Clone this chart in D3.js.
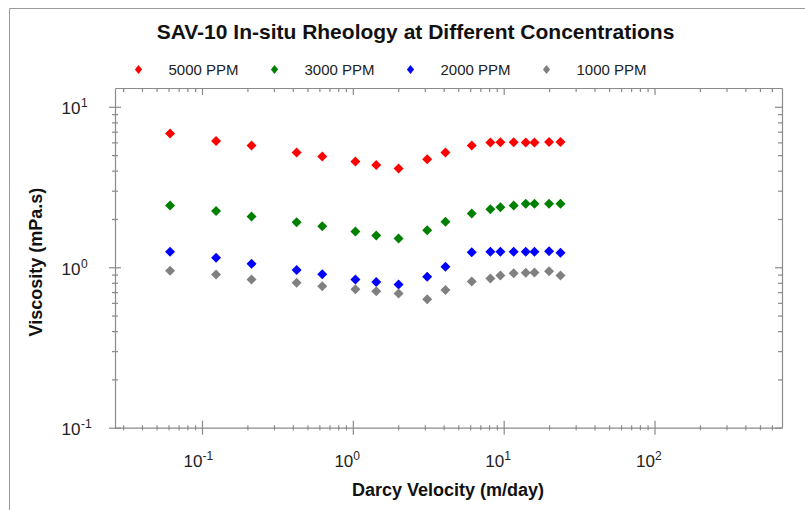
<!DOCTYPE html>
<html lang="en">
	<head>
		<meta charset="utf-8">
		<title>SAV-10 In-situ Rheology</title>
		<script type="text/javascript" src="https://cdn.jsdelivr.net/npm/d3@7"></script>
		<style>
			body { margin: 0; background: #fff; }
			text { font-family: "Liberation Sans", Arial, sans-serif; }
		</style>
	</head>
	<body>
		<script type="text/javascript">

			var w = 805;
			var h = 510;

			// darcy velocity (m/day), shared by all concentrations
			var velocity = [0.0614, 0.124, 0.213, 0.424, 0.627, 1.04, 1.43, 2.01, 3.11, 4.11, 6.14, 8.16, 9.51, 11.65, 14.0, 16.0, 20.0, 23.8];

			var visc5000 = [6.82, 6.13, 5.74, 5.19, 4.90, 4.56, 4.34, 4.13, 4.71, 5.19, 5.74, 5.99, 6.02, 6.02, 5.99, 5.99, 6.04, 6.04];
			var visc3000 = [2.43, 2.24, 2.07, 1.91, 1.80, 1.67, 1.58, 1.51, 1.70, 1.92, 2.16, 2.30, 2.37, 2.43, 2.49, 2.49, 2.49, 2.49];
			var visc2000 = [1.25, 1.145, 1.05, 0.963, 0.904, 0.838, 0.808, 0.78, 0.873, 1.006, 1.24, 1.25, 1.25, 1.25, 1.25, 1.25, 1.26, 1.23];
			var visc1000 = [0.951, 0.90, 0.838, 0.80, 0.761, 0.729, 0.708, 0.685, 0.631, 0.722, 0.814, 0.85, 0.887, 0.917, 0.923, 0.927, 0.944, 0.887];

			var seriesNames = ["5000 PPM", "3000 PPM", "2000 PPM", "1000 PPM"];
			var seriesColors = ["#ff0000", "#008000", "#0000ff", "#808080"];
			var seriesValues = [visc5000, visc3000, visc2000, visc1000];

			var xMajor = [0.1, 1, 10, 100];
			var yMajor = [0.1, 1, 10];

			var plotLeft = 115, plotRight = 782, plotTop = 88, plotBottom = 427.7;
			var axisColor = "#8a8a8a";

			var xScale = d3.scaleLog()
						   .domain([0.0265, 700])
						   .range([plotLeft, plotRight]);

			var yScale = d3.scaleLog()
						   .domain([0.1, 13.1])
						   .range([plotBottom, plotTop]);

			function logTicks(lo, hi) {
				var t = [];
				for (var e = -3; e <= 3; e++) {
					for (var m = 1; m <= 9; m++) {
						var v = +(m * Math.pow(10, e)).toPrecision(3);
						if (v >= lo && v <= hi) t.push(v);
					}
				}
				return t;
			}
			function isMajor(v) {
				return Math.abs(Math.log10(v) - Math.round(Math.log10(v))) < 1e-6;
			}

			var xTicks = logTicks(0.0265, 650);
			var yTicks = logTicks(0.1, 13);

			var svg = d3.select("body")
						.append("svg")
						.attr("width", w)
						.attr("height", h);

			// outer frame of the picture
			svg.append("path")
			   .attr("d", "M9.5," + h + "V8.5H" + w)
			   .attr("fill", "none")
			   .attr("stroke", "#9a9a9a")
			   .attr("stroke-width", 1);

			// axes
			var xAxisB = d3.axisBottom(xScale).tickValues(xTicks).tickFormat("").tickSizeOuter(0);
			var xAxisT = d3.axisTop(xScale).tickValues(xTicks).tickFormat("").tickSizeOuter(0);
			var yAxisL = d3.axisLeft(yScale).tickValues(yTicks).tickFormat("").tickSizeOuter(0);
			var yAxisR = d3.axisRight(yScale).tickValues(yTicks).tickFormat("").tickSizeOuter(0);

			var gB = svg.append("g").attr("transform", "translate(0," + plotBottom + ")").call(xAxisB);
			gB.selectAll(".tick line")
			  .attr("y1", function(d) { return isMajor(d) ? -7 : -2.5; })
			  .attr("y2", function(d) { return isMajor(d) ? 7 : 2.5; });

			var gT = svg.append("g").attr("transform", "translate(0," + plotTop + ")").call(xAxisT);
			gT.selectAll(".tick line")
			  .attr("y1", 0)
			  .attr("y2", function(d) { return isMajor(d) ? 7 : 4; });

			var gL = svg.append("g").attr("transform", "translate(" + plotLeft + ",0)").call(yAxisL);
			gL.selectAll(".tick line")
			  .attr("x1", function(d) { return isMajor(d) ? -6 : -3; })
			  .attr("x2", function(d) { return isMajor(d) ? 6 : 3; });

			var gR = svg.append("g").attr("transform", "translate(" + plotRight + ",0)").call(yAxisR);
			gR.selectAll(".tick line")
			  .attr("x1", 0)
			  .attr("x2", function(d) { return isMajor(d) ? -7 : -4; });

			svg.selectAll(".domain, .tick line")
			   .attr("stroke", axisColor)
			   .attr("stroke-width", 1.2);

			// tick labels 10^n
			xMajor.forEach(function(v) {
				var x = xScale(v);
				var e = Math.round(Math.log10(v));
				svg.append("text").attr("x", x + 0.5).attr("y", 467)
				   .attr("text-anchor", "end").attr("font-size", "17px").attr("fill", "#222").text("10");
				svg.append("text").attr("x", x + 0.5).attr("y", 459.5)
				   .attr("font-size", "12px").attr("fill", "#222").text(e);
			});
			yMajor.forEach(function(v) {
				var y = yScale(v);
				var e = Math.round(Math.log10(v));
				svg.append("text").attr("x", 80.5).attr("y", y + 7.5)
				   .attr("text-anchor", "end").attr("font-size", "17px").attr("fill", "#222").text("10");
				svg.append("text").attr("x", 81).attr("y", y + 0.5)
				   .attr("font-size", "12px").attr("fill", "#222").text(e);
			});

			// diamond markers
			function diamond(rx, ry) {
				return "M0," + (-ry) + "L" + rx + ",0L0," + ry + "L" + (-rx) + ",0Z";
			}

			seriesValues.forEach(function(vals, s) {
				svg.append("g")
				   .selectAll("path")
				   .data(vals)
				   .enter()
				   .append("path")
				   .attr("d", diamond(5, 5))
				   .attr("transform", function(d, i) {
					   return "translate(" + xScale(velocity[i]) + "," + yScale(d) + ")";
				   })
				   .attr("fill", seriesColors[s]);
			});

			// legend
			var legend = svg.selectAll(".legend")
							.data(seriesNames)
							.enter()
							.append("g")
							.attr("class", "legend")
							.attr("transform", function(d, i) {
								return "translate(" + (138.5 + i * 136) + ",69.5)";
							});
			legend.append("path")
				  .attr("d", diamond(3.6, 4.6))
				  .attr("fill", function(d, i) { return seriesColors[i]; });
			legend.append("text")
				  .attr("x", 30)
				  .attr("y", 5)
				  .attr("font-size", "15px")
				  .attr("fill", "#222")
				  .text(function(d) { return d; });

			// titles
			svg.append("text")
			   .attr("x", 415.5)
			   .attr("y", 39)
			   .attr("text-anchor", "middle")
			   .attr("font-size", "21px")
			   .attr("font-weight", "bold")
			   .attr("fill", "#111")
			   .text("SAV-10 In-situ Rheology at Different Concentrations");

			svg.append("text")
			   .attr("x", 448)
			   .attr("y", 496)
			   .attr("text-anchor", "middle")
			   .attr("font-size", "18px")
			   .attr("font-weight", "bold")
			   .attr("fill", "#111")
			   .text("Darcy Velocity (m/day)");

			svg.append("text")
			   .attr("transform", "translate(42,262) rotate(-90)")
			   .attr("text-anchor", "middle")
			   .attr("font-size", "18px")
			   .attr("font-weight", "bold")
			   .attr("fill", "#111")
			   .text("Viscosity (mPa.s)");
		</script>
	</body>
</html>
